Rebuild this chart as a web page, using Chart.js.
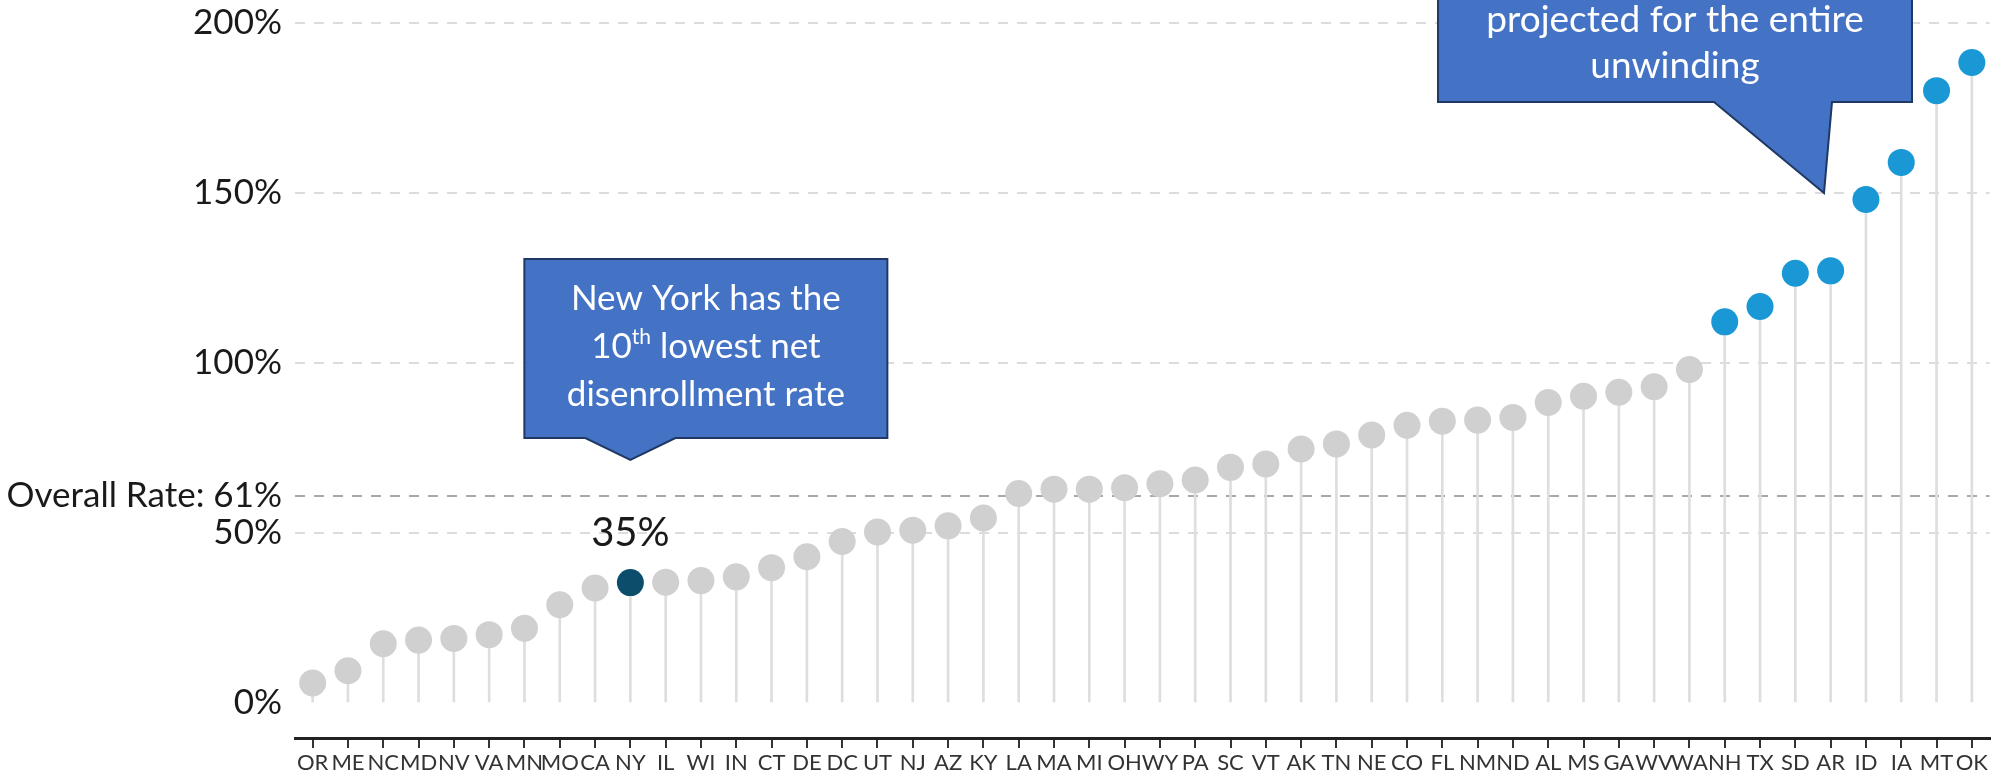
<!DOCTYPE html>
<html>
<head>
<meta charset="utf-8">
<script src="https://cdn.jsdelivr.net/npm/chart.js@4.4.0/dist/chart.umd.min.js"></script>
<style>
  html, body { margin: 0; padding: 0; background: #fff; }
  canvas { display: block; }
</style>
</head>
<body>
<canvas id="myChart" width="2003" height="778"></canvas>
<script>
// net disenrollment rate by state, sorted low to high
var states = ['OR','ME','NC','MD','NV','VA','MN','MO','CA','NY','IL','WI','IN','CT','DE','DC','UT','NJ','AZ','KY',
  'LA','MA','MI','OH','WY','PA','SC','VT','AK','TN','NE','CO','FL','NM','ND','AL','MS','GA','WV','WA',
  'NH','TX','SD','AR','ID','IA','MT','OK'];
var rates = [5.9, 9.5, 17.4, 18.5, 19.0, 20.1, 22.0, 28.9, 33.8, 35.4, 35.5, 36.0, 37.1, 39.8, 43.0, 47.5, 50.3, 50.8, 52.1, 54.4,
  61.6, 62.9, 62.9, 63.3, 64.5, 65.6, 69.3, 70.3, 74.7, 76.2, 78.8, 81.7, 82.9, 83.2, 84.0, 88.4, 90.2, 91.4, 93.0, 98.1,
  112.1, 116.6, 126.4, 127.1, 148.1, 159.0, 180.1, 188.4];
var overallRate = 61;
var yTicks = [0, 50, overallRate, 100, 150, 200];
var focusState = 'NY';
var exceededStates = ['NH','TX','SD','AR','ID','IA','MT','OK'];

var GRAY = '#d0d0d0', STEM = '#dedede', NAVY = '#0d4d6c', BLUE = '#1a98d5';
var BOX_FILL = '#4472c4', BOX_LINE = '#1f3864';

function dotColor(s) {
  if (s === focusState) return NAVY;
  if (exceededStates.indexOf(s) >= 0) return BLUE;
  return GRAY;
}

function drawCallout(ctx, box, baseL, baseR, tip) {
  ctx.save();
  ctx.beginPath();
  ctx.moveTo(box.left, box.top);
  ctx.lineTo(box.right, box.top);
  ctx.lineTo(box.right, box.bottom);
  ctx.lineTo(baseR, box.bottom);
  ctx.lineTo(tip.x, tip.y);
  ctx.lineTo(baseL, box.bottom);
  ctx.lineTo(box.left, box.bottom);
  ctx.closePath();
  ctx.fillStyle = BOX_FILL;
  ctx.fill();
  ctx.lineWidth = 2;
  ctx.strokeStyle = BOX_LINE;
  ctx.stroke();
  ctx.restore();
}

var annotations = {
  id: 'annotations',
  afterDatasetsDraw: function(chart) {
    var ctx = chart.ctx;
    var x = chart.scales.x, y = chart.scales.y;
    var i = states.indexOf(focusState);
    var nx = x.getPixelForValue(i);
    var ny = y.getPixelForValue(rates[i]);

    // value label above NY
    ctx.save();
    ctx.fillStyle = '#1a1a1a';
    ctx.font = '40px Lato';
    ctx.textAlign = 'center';
    ctx.textBaseline = 'alphabetic';
    ctx.fillText(Math.round(rates[i]) + '%', nx, ny - 37);
    ctx.restore();

    // NY callout
    var b1 = { left: nx - 106, right: nx + 257, top: 259, bottom: 438 };
    drawCallout(ctx, b1, nx - 45, nx + 45, { x: nx, y: 460 });
    var cx = (b1.left + b1.right) / 2;
    ctx.save();
    ctx.fillStyle = '#fff';
    ctx.textBaseline = 'alphabetic';
    ctx.textAlign = 'center';
    ctx.font = '35px Lato';
    ctx.fillText('New York has the', cx, 310);
    ctx.fillText('disenrollment rate', cx, 406);
    // line with superscript
    ctx.textAlign = 'left';
    var a = '10', sup = 'th', rest = ' lowest net';
    ctx.font = '35px Lato';
    var wa = ctx.measureText(a).width, wr = ctx.measureText(rest).width;
    ctx.font = '21px Lato';
    var ws = ctx.measureText(sup).width;
    var sx = cx - (wa + ws + wr) / 2;
    ctx.font = '35px Lato';
    ctx.fillText(a, sx, 358);
    ctx.font = '21px Lato';
    ctx.fillText(sup, sx + wa, 344);
    ctx.font = '35px Lato';
    ctx.fillText(rest, sx + wa + ws, 358);
    ctx.restore();

    // callout for states above the projection
    var b2 = { left: 1438, right: 1912, top: -80, bottom: 102 };
    drawCallout(ctx, b2, 1714, 1832, { x: 1824, y: 193 });
    var cx2 = (b2.left + b2.right) / 2;
    ctx.save();
    ctx.fillStyle = '#fff';
    ctx.textAlign = 'center';
    ctx.textBaseline = 'alphabetic';
    ctx.font = '37px Lato';
    ctx.fillText('projected for the entire', cx2, 32);
    ctx.fillText('unwinding', cx2, 78);
    ctx.restore();
  }
};

function makeChart() {
  var ctx = document.getElementById('myChart');
  var myChart = new Chart(ctx, {
    type: 'bar',
    data: {
      labels: states,
      datasets: [{
        type: 'line',
        data: rates,
        showLine: false,
        pointRadius: 13.5,
        pointHoverRadius: 13.5,
        pointBorderWidth: 0,
        pointBackgroundColor: states.map(dotColor),
        order: 0
      }, {
        data: rates,
        backgroundColor: STEM,
        barThickness: 2,
        order: 1
      }]
    },
    plugins: [annotations],
    options: {
      responsive: false,
      animation: false,
      devicePixelRatio: 1,
      layout: { padding: { top: 23, right: 7, left: 0, bottom: 0 } },
      plugins: { legend: { display: false }, tooltip: { enabled: false } },
      scales: {
        x: {
          offset: true,
          afterFit: function(s) { s.height = 40; },
          grid: { display: true, drawOnChartArea: false, drawTicks: true, tickLength: 10, offset: false, color: '#333', lineWidth: 2 },
          border: { display: true, color: '#222', width: 3 },
          ticks: { autoSkip: false, maxRotation: 0, minRotation: 0, padding: 2, color: '#333', font: { family: 'Lato', size: 22 } }
        },
        y: {
          weight: 1,
          min: -10.3,
          max: 200,
          afterFit: function(s) { s.width = 282; },
          afterBuildTicks: function(s) { s.ticks = yTicks.map(function(v) { return { value: v }; }); },
          grid: {
            drawTicks: false,
            lineWidth: 2,
            color: function(c) {
              if (c.tick.value === 0) return 'rgba(0,0,0,0)';
              if (c.tick.value === overallRate) return '#a8a8a8';
              return '#dcdcdc';
            }
          },
          border: { display: false, dash: [10, 9] },
          ticks: {
            autoSkip: false,
            padding: 0,
            color: '#1a1a1a',
            font: { family: 'Lato', size: 35 },
            callback: function(v) { return v === overallRate ? 'Overall Rate: ' + v + '%' : v + '%'; }
          }
        },
        // empty spacer between the tick labels and the plot
        gap: {
          type: 'linear',
          position: 'left',
          weight: 0,
          afterFit: function(s) { s.width = 13; },
          grid: { display: false, drawTicks: false },
          border: { display: false },
          ticks: { display: false }
        }
      }
    }
  });
}

if (document.fonts && document.fonts.load) {
  Promise.all([document.fonts.load('35px Lato'), document.fonts.load('22px Lato')]).then(makeChart, makeChart);
} else {
  makeChart();
}
</script>
</body>
</html>
